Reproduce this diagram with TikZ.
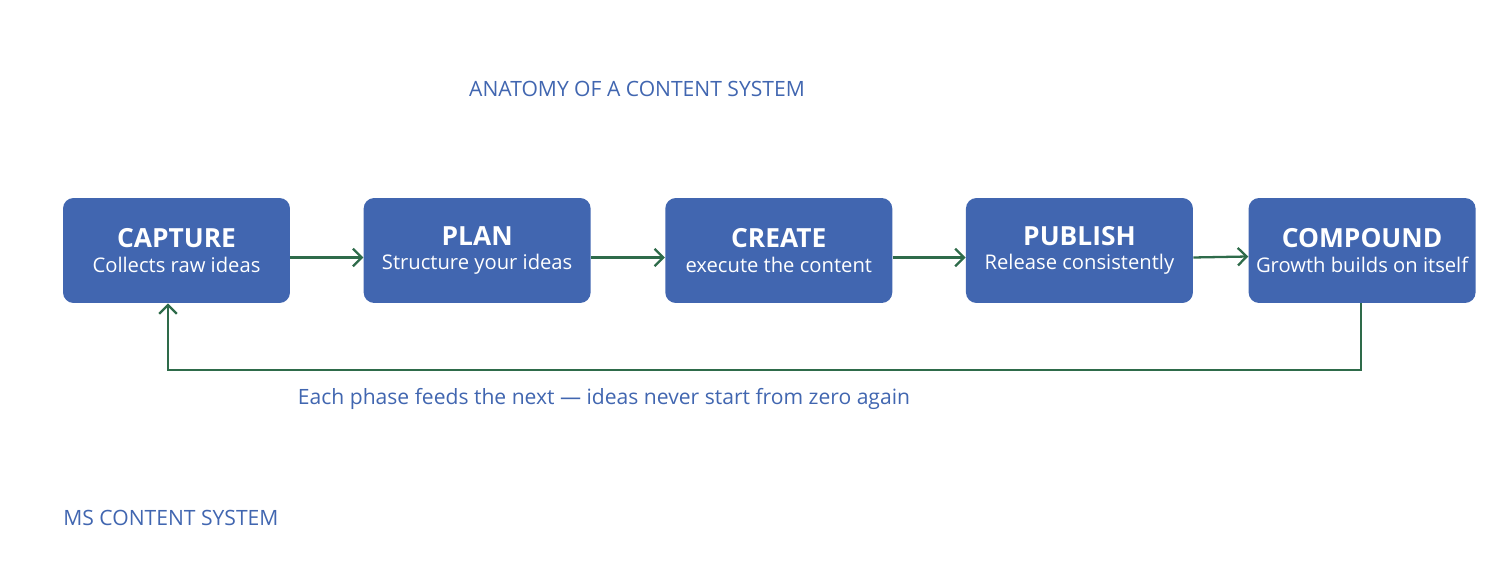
\documentclass[tikz,border=0pt]{standalone}
\usepackage{fontspec}
\setmainfont{Open Sans}
\usetikzlibrary{positioning,arrows.meta}
\definecolor{boxblue}{HTML}{4166B0}
\definecolor{flowgreen}{HTML}{2E6B4A}
\tikzset{
  phase/.style={rectangle, rounded corners=6pt, fill=boxblue, text=white,
    minimum width=4.54cm, minimum height=2.1cm, align=center, inner sep=2pt},
  flow/.style={draw=flowgreen, line width=1.3pt, -{Straight Barb[length=5pt,width=10pt]}},
  note/.style={text=boxblue, font=\fontsize{12}{14}\selectfont, inner sep=0pt}
}
\newcommand{\phasetext}[2]{{\fontsize{15}{17}\selectfont\bfseries #1}\\[2pt]{\fontsize{11.5}{13}\selectfont #2}}
\begin{document}
\begin{tikzpicture}[x=0.02cm, y=-0.02cm]
\useasboundingbox (0,0) rectangle (1500,573);
\node[note] (title) at (637,89) {ANATOMY OF A CONTENT SYSTEM};

\node[phase] (capture) at (176.5,250.5) {\phasetext{CAPTURE}{Collects raw ideas}};
\node[phase, right=1.46cm of capture] (plan) {\phasetext{PLAN}{Structure your ideas}};
\node[phase, right=1.48cm of plan] (create) {\phasetext{CREATE}{execute the content}};
\node[phase, right=1.46cm of create] (publish) {\phasetext{PUBLISH}{Release consistently}};
\node[phase, right=1.1cm of publish] (compound) {\phasetext{COMPOUND}{Growth builds on itself}};

\draw[flow] ([yshift=-0.14cm]capture.east) -- ([yshift=-0.14cm]plan.west);
\draw[flow] ([yshift=-0.14cm]plan.east) -- ([yshift=-0.14cm]create.west);
\draw[flow] ([yshift=-0.14cm]create.east) -- ([yshift=-0.14cm]publish.west);
\draw[flow] ([yshift=-0.14cm]publish.east) -- ([yshift=-0.12cm]compound.west);

\coordinate (loopright) at (1361,370);
\coordinate (loopleft) at (168,370);
\draw[flow] (compound.south -| loopright) -- (loopright) -- (loopleft) -- (capture.south -| loopleft);

\node[note] (caption) at (604,399) {Each phase feeds the next — ideas never start from zero again};
\node[note, anchor=west] (brand) at (63,518) {MS CONTENT SYSTEM};
\end{tikzpicture}
\end{document}
